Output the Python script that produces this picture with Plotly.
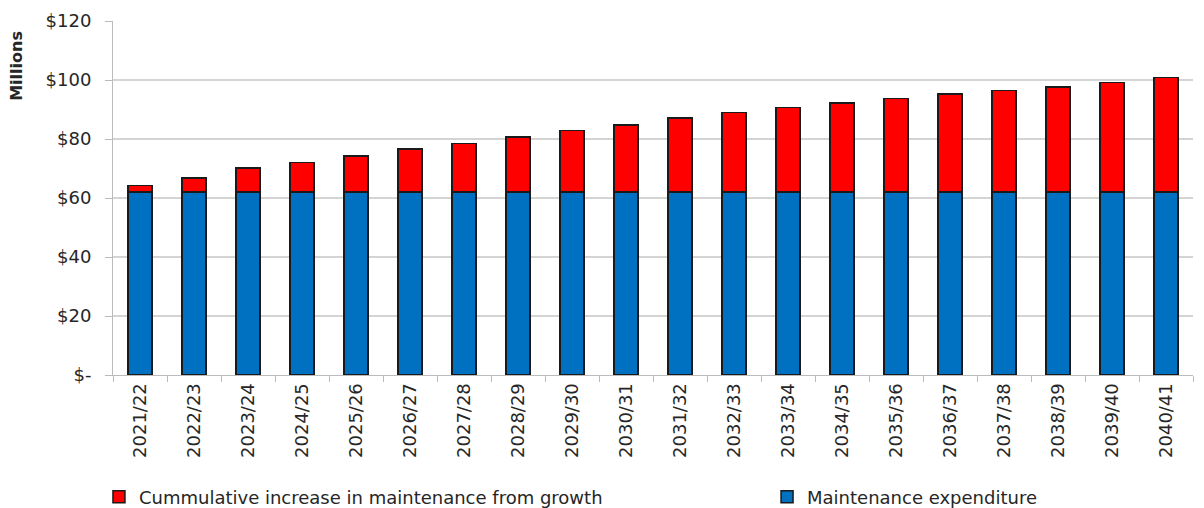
import plotly.graph_objects as go

years = ["2021/22", "2022/23", "2023/24", "2024/25", "2025/26", "2026/27", "2027/28",
         "2028/29", "2029/30", "2030/31", "2031/32", "2032/33", "2033/34", "2034/35",
         "2035/36", "2036/37", "2037/38", "2038/39", "2039/40", "2040/41"]
maintenance = [62.0] * 20
growth = [2.2, 4.7, 8.1, 10.0, 12.2, 14.6, 16.5, 18.6, 20.8, 22.7,
          25.2, 27.0, 28.6, 30.2, 31.7, 33.3, 34.5, 35.7, 37.2, 38.8]
ytick_vals = [0, 20, 40, 60, 80, 100, 120]
ytick_text = ["$-", "$20", "$40", "$60", "$80", "$100", "$120"]

FONT = "DejaVu Sans, Verdana, sans-serif"
TXT = "#262626"

fig = go.Figure()
fig.add_trace(go.Bar(x=years, y=maintenance, name="Maintenance expenditure",
                     legend="legend2", showlegend=True,
                     marker=dict(color="#0070C0", line=dict(color="#1a1a1a", width=1.5))))
fig.add_trace(go.Bar(x=years, y=growth, name="Cummulative increase in maintenance from growth",
                     legend="legend", showlegend=True,
                     marker=dict(color="#FF0000", line=dict(color="#1a1a1a", width=1.5))))

leg_common = dict(orientation="h", yref="container", y=0.0217, yanchor="middle",
                  xanchor="left", itemwidth=30, font=dict(size=18, color=TXT, family=FONT),
                  bgcolor="rgba(0,0,0,0)")

fig.update_layout(
    showlegend=True,
    barmode="stack",
    bargap=0.56,
    width=1204, height=508,
    margin=dict(l=113, r=11, t=21, b=133),
    plot_bgcolor="white", paper_bgcolor="white",
    font=dict(family=FONT, size=18, color=TXT),
    legend=dict(x=-0.013, **leg_common),
    legend2=dict(x=0.6056, **leg_common),
    xaxis=dict(type="category", tickangle=-90, ticks="outside", ticklen=6,
               tickcolor="#bbb", tickson="boundaries", showline=True, linecolor="#bbb",
               tickfont=dict(size=18, color=TXT), showgrid=False, automargin=False),
    yaxis=dict(range=[0, 120], tickvals=ytick_vals, ticktext=ytick_text,
               showgrid=True, gridcolor="#d4d4d4", gridwidth=1.5, ticks="outside",
               ticklen=7, tickcolor="#bbb", showline=True, linecolor="#bbb",
               ticklabelstandoff=10,
               tickfont=dict(size=18, color=TXT), zeroline=False, automargin=False),
    annotations=[dict(text="<b>Millions</b>", x=-0.089, y=0.873, xref="paper", yref="paper",
                      xanchor="center", yanchor="middle",
                      textangle=-90, showarrow=False, font=dict(size=16, color=TXT, family=FONT))],
)

fig.write_html("out.html")
